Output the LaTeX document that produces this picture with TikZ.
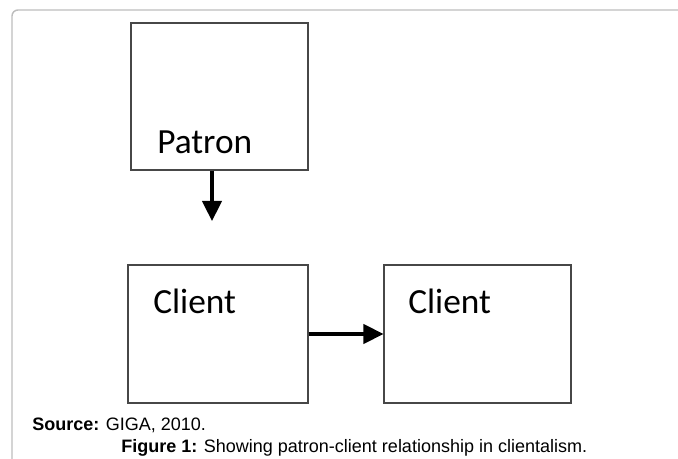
\documentclass[tikz,border=0pt]{standalone}
\usepackage{fontspec}
\setmainfont{Liberation Sans}
\newfontfamily\boxfont{Carlito}
\usepackage{tikz}
\usetikzlibrary{arrows.meta,positioning,calc}
\definecolor{FrameGray}{HTML}{BDBDBD}
\definecolor{BoxEdge}{HTML}{474747}

\begin{document}
\begin{tikzpicture}[x=0.75pt, y=-0.75pt, every node/.style={font=\fontsize{13.5}{16}\selectfont, inner sep=0pt}, box/.style={draw=BoxEdge, line width=0.8pt, fill=white}, boxtext/.style={anchor=base west, font=\boxfont\fontsize{26.5}{31}\selectfont}, arrow/.style={-{Triangle[length=15pt, width=14.5pt]}, line width=2.4pt, color=black}]
\useasboundingbox (0,0) rectangle (678,459);
\draw[FrameGray, line width=1.1pt, rounded corners=4.5pt] (12,459) -- (12,10) -- (678,10);
% boxes
\node[box, minimum width=177*0.75pt, minimum height=147*0.75pt] (patron) at (219.5,96.5) {};
\node[box, minimum width=180*0.75pt, minimum height=138*0.75pt] (clientA) at (218,334) {};
\node[box, minimum width=187*0.75pt, minimum height=138*0.75pt] (clientB) at (477.5,334) {};
\node[boxtext] (patronlbl) at (157,154) {Patron};
\node[boxtext] (clientAlbl) at (153,314) {Client};
\node[boxtext] (clientBlbl) at (408,314) {Client};
% arrows
\coordinate (patronend) at (212,221);
\draw[arrow] (patron.south -| patronend) -- (patronend);
\draw[arrow] (clientA.east) -- (clientB.west);
% source and caption
\node[anchor=base west] (source) at (32,431) {\textbf{Source:} GIGA, 2010.};
\node[anchor=base west] (caption) at (121,452) {\textbf{Figure 1:} Showing patron-client relationship in clientalism.};
\end{tikzpicture}
\end{document}
